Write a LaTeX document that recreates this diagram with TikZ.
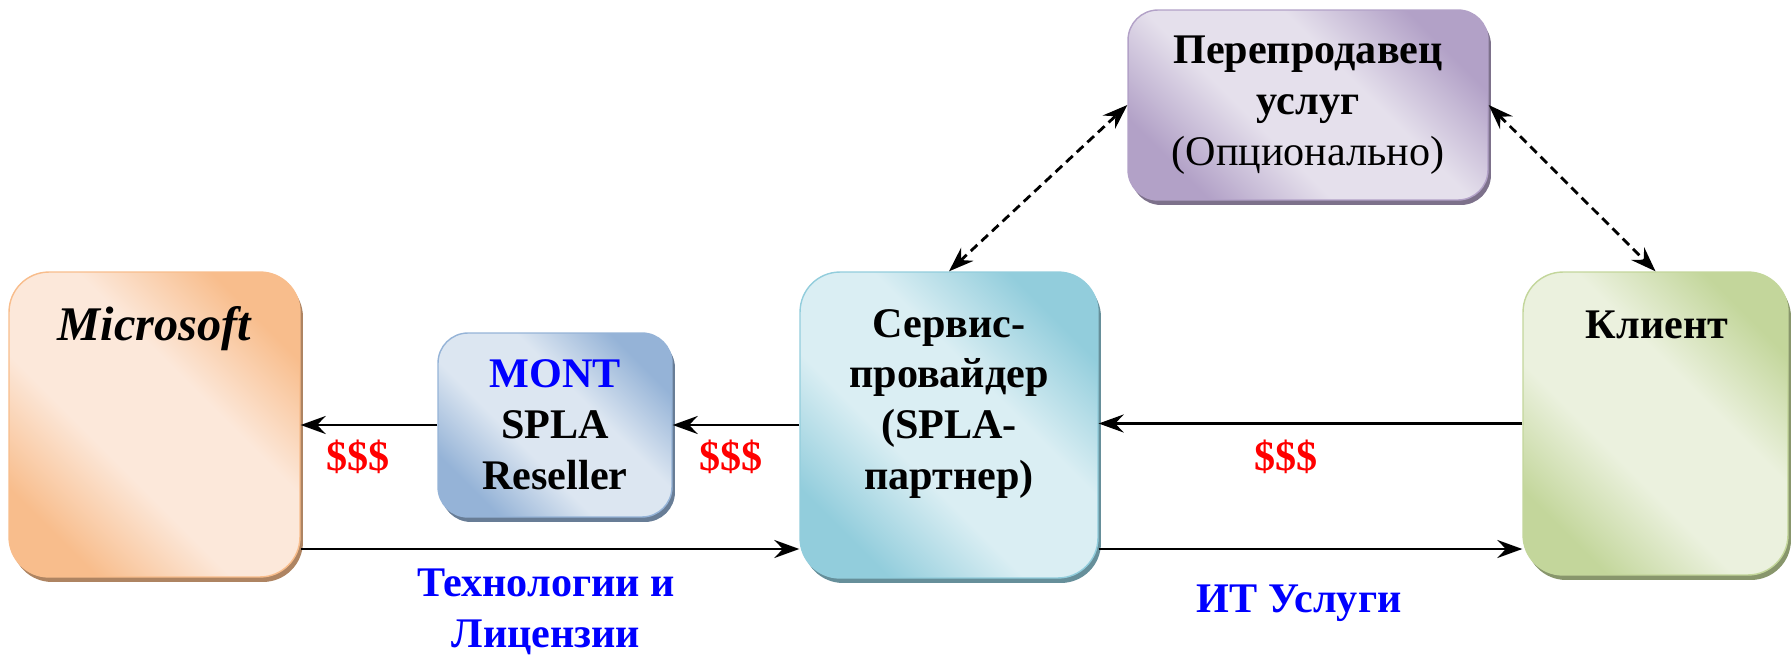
\documentclass[tikz,border=0pt]{standalone}
\usepackage{fontspec}
\setmainfont{Liberation Serif}
\usetikzlibrary{arrows.meta,shadows}

\definecolor{msdark}{HTML}{F8BD8C}
\definecolor{mslight}{HTML}{FCE8DA}
\definecolor{montdark}{HTML}{95B3D7}
\definecolor{montlight}{HTML}{DCE6F1}
\definecolor{spdark}{HTML}{92CDDC}
\definecolor{splight}{HTML}{DAEEF3}
\definecolor{resdark}{HTML}{B2A1C7}
\definecolor{reslight}{HTML}{E5E0EC}
\definecolor{cldark}{HTML}{C3D69B}
\definecolor{cllight}{HTML}{EBF1DE}
\definecolor{moneyred}{HTML}{FF0000}
\definecolor{flowblue}{HTML}{0000FF}

\pgfdeclareverticalshading[boxdk,boxlt]{boxshade}{100bp}{color(0bp)=(boxdk); color(25bp)=(boxdk); color(41bp)=(boxlt); color(59bp)=(boxlt); color(75bp)=(boxdk); color(100bp)=(boxdk)}

\tikzset{
	box/.style 2 args={draw=#1, line width=0.8pt, rounded corners=0.8cm,
		/utils/exec={\colorlet{boxdk}{#1}\colorlet{boxlt}{#2}},
		shading=boxshade, shading angle=-45,
		drop shadow={shadow xshift=0.06cm, shadow yshift=-0.1cm, opacity=1, fill=#1!70!black},
		align=center, inner sep=0pt, font=\fontsize{24}{29}\selectfont\bfseries},
	boxtext/.style={font=\fontsize{24}{29}\selectfont\bfseries, align=center},
	money/.style={font=\fontsize{24}{29}\selectfont\bfseries, text=moneyred},
	flowlabel/.style={font=\fontsize{24}{29}\selectfont\bfseries, text=flowblue, align=center},
	flow/.style={line width=1.6pt, -{Stealth[length=0.5cm, width=0.36cm, inset=0.17cm]}},
	optflow/.style={line width=1.6pt, {Stealth[length=0.5cm, width=0.36cm, inset=0.17cm]}-{Stealth[length=0.5cm, width=0.36cm, inset=0.17cm]}, dash pattern=on 0.18cm off 0.11cm},
}

\begin{document}
\begin{tikzpicture}[x=0.02cm,y=-0.02cm]

	\useasboundingbox (0,0) rectangle (1792,655);

	\node[box={msdark}{mslight}, minimum width=5.82cm, minimum height=6.1cm] (ms) at (154.5,424.5) {};
	\node[boxtext, font=\fontsize{27.5}{32}\selectfont\bfseries\itshape] (mstitle) at (154.5,329) {Microsoft};

	\node[box={montdark}{montlight}, rounded corners=0.6cm, minimum width=4.68cm, minimum height=3.68cm] (mont) at (555,425)
		{\textcolor{flowblue}{MONT}\\SPLA\\Reseller};

	\node[box={spdark}{splight}, minimum width=5.96cm, minimum height=6.12cm] (sp) at (949,425) {};
	\node[boxtext] (sptitle) at (949,404) {Сервис-\\провайдер\\(SPLA-\\партнер)};

	\node[box={resdark}{reslight}, rounded corners=0.6cm, minimum width=7.2cm, minimum height=3.8cm] (res) at (1308,105)
		{Перепродавец\\услуг\\{\mdseries (Опционально)}};

	\node[box={cldark}{cllight}, minimum width=5.3cm, minimum height=6.06cm] (cl) at (1655.5,423.5) {};
	\node[boxtext] (cltitle) at (1657,325) {Клиент};

	\coordinate (lo) at (0,549);

	\draw[flow] (mont.west) -- (mont.west -| ms.east);
	\draw[flow] (sp.west) -- (sp.west -| mont.east);
	\draw[flow] (cl.west) -- (cl.west -| sp.east);
	\draw[flow] (ms.east |- lo) -- (sp.west |- lo);
	\draw[flow] (sp.east |- lo) -- (cl.west |- lo);
	\draw[optflow] (sp.north) -- (res.west);
	\draw[optflow] (res.east) -- (cl.north);

	\node[money] (m1) at (358,457) {\$\$\$};
	\node[money] (m2) at (731,457) {\$\$\$};
	\node[money] (m3) at (1286,457) {\$\$\$};

	\node[flowlabel] (techlbl) at (546,612) {Технологии и\\Лицензии};
	\node[flowlabel] (itlbl) at (1299,603) {ИТ Услуги};

\end{tikzpicture}
\end{document}
